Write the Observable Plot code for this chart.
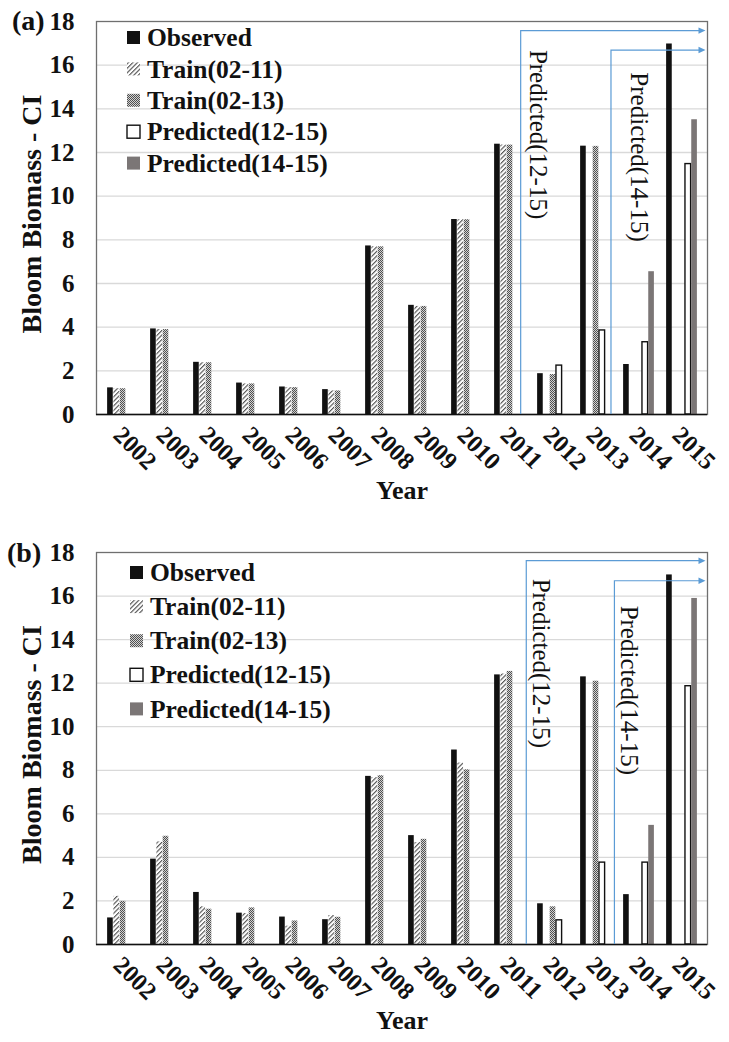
<!DOCTYPE html>
<html><head><meta charset="utf-8">
<script src="https://cdn.jsdelivr.net/npm/d3@7"></script>
<script src="https://cdn.jsdelivr.net/npm/@observablehq/plot@0.6"></script>
<style>
body{margin:0;background:#fff;}
.panel{position:relative;width:729px;}
.panel svg{display:block;}
.panel svg text{font-family:"Liberation Serif","Times New Roman",serif;}
.tag{position:absolute;font:bold 28px/1 "Liberation Serif","Times New Roman",serif;color:#111;}
</style></head><body><div id="wrap"></div>
<script>
// ---- data ----
const years = ["2002","2003","2004","2005","2006","2007","2008","2009","2010","2011","2012","2013","2014","2015"];
const seriesNames = ["Observed","Train(02-11)","Train(02-13)","Predicted(12-15)","Predicted(14-15)"];
const observed = [1.22,3.92,2.39,1.44,1.26,1.14,7.72,5.0,8.93,12.38,1.87,12.29,2.29,16.97];
// panel (a)
const trainA11 = [1.18,3.89,2.37,1.40,1.23,1.08,7.68,4.95,8.92,12.34,null,null,null,null];
const trainA13 = [1.18,3.89,2.37,1.40,1.23,1.08,7.68,4.95,8.92,12.34,1.83,12.28,null,null];
const predA1215 = [null,null,null,null,null,null,null,null,null,null,2.24,3.85,3.31,11.47];
const predA1415 = [null,null,null,null,null,null,null,null,null,null,null,null,6.54,13.5];
// panel (b)
const trainB11 = [2.21,4.71,1.73,1.42,0.84,1.33,7.66,4.68,8.33,12.42,null,null,null,null];
const trainB13 = [1.98,4.97,1.62,1.68,1.08,1.25,7.75,4.83,8.02,12.54,1.73,12.09,null,null];
const predB1215 = [null,null,null,null,null,null,null,null,null,null,1.11,3.76,3.76,11.86];
const predB1415 = [null,null,null,null,null,null,null,null,null,null,null,null,5.47,15.89];
const yTicks = [0,2,4,6,8,10,12,14,16,18];
// annotations (arrow start year, shift within band, arrow top value)
const noteLabels = ["Predicted(12-15)","Predicted(14-15)"];
const noteYears = ["2012","2014"];
const arrowYears = ["2011","2013"];
const arrowShiftA = [0.26,0.36], arrowTopA = [17.56,16.67], noteTopA = [16.7,15.67];
const arrowShiftB = [0.39,0.44], arrowTopB = [17.6,16.68], noteTopB = [16.8,15.56];

const panels = [
  {id:"a", tag:"(a)", tagX:12, tagY:7, height:530, marginTop:21, marginBottom:116,
   series:[observed,trainA11,trainA13,predA1215,predA1415],
   arrowShift:arrowShiftA, arrowTop:arrowTopA, noteTop:noteTopA, noteDx:[-15,0],
   legendX:127, legendY:37.5, legendStep:31.4},
  {id:"b", tag:"(b)", tagX:7, tagY:9, height:512, marginTop:22, marginBottom:98,
   series:[observed,trainB11,trainB13,predB1215,predB1415],
   arrowShift:arrowShiftB, arrowTop:arrowTopB, noteTop:noteTopB, noteDx:[-12.5,-10.5],
   legendX:130, legendY:42.5, legendStep:34.1}
];

const W = 729, ML = 96, MR = 22;
const wrap = document.getElementById("wrap");

function drawPanel(p){
  const fills = ["#111", `url(#hatch-${p.id})`, `url(#check-${p.id})`, "#fff", "#7b7676"];
  const bw = (W-ML-MR)/years.length;
  const slot = bw*0.72/5;
  const inset = (bw-slot)/2;
  const marks = [
    Plot.ruleY(yTicks.filter(v=>v>0 && v<18), {stroke:"#d9d9d9", strokeWidth:1.3}),
    Plot.frame({stroke:"#6f6f6f", strokeWidth:1.3})
  ];
  p.series.forEach((vals,k)=>{
    const rows = years.map((y,i)=>({year:y, value:vals[i]})).filter(d=>d.value!=null);
    marks.push(Plot.barY(rows, {x:"year", y:"value", fill:fills[k],
      stroke: k===3 ? "#111" : "none", strokeWidth:1.4,
      insetLeft:inset, insetRight:inset, dx:(k-2)*slot}));
  });
  marks.push(Plot.ruleY([0], {stroke:"#111", strokeWidth:1.6}));
  marks.push(Plot.text(years, {x:d=>d, text:d=>d, frameAnchor:"bottom", rotate:45, textAnchor:"start", dx:-11, dy:22, fontSize:24.5, fontWeight:"bold"}));
  marks.push(Plot.text(["Year"], {text:d=>d, frameAnchor:"bottom", textAnchor:"middle", dy:84, fontSize:26, fontWeight:"bold"}));
  marks.push(Plot.text(["Bloom Biomass - CI"], {text:d=>d, frameAnchor:"left", textAnchor:"middle", rotate:-90, dx:-64, dy:-4, fontSize:28, fontWeight:"bold"}));
  noteLabels.forEach((lab,i)=>{
    marks.push(Plot.text([{year:noteYears[i], top:p.noteTop[i], label:lab}], {x:"year", y:"top", text:"label", rotate:90, textAnchor:"start", dx:p.noteDx[i], fontSize:25, fontWeight:"normal", fill:"#111"}));
  });
  const chart = Plot.plot({
    width:W, height:p.height, marginLeft:ML, marginRight:MR, marginTop:p.marginTop, marginBottom:p.marginBottom,
    style:{fontFamily:"'Liberation Serif','Times New Roman',serif", fontSize:"25px", fontWeight:"bold", background:"#fff", color:"#111"},
    x:{domain:years, axis:null, padding:0},
    y:{domain:[0,18], ticks:9, tickSize:0, tickPadding:22, line:true, label:null, tickFormat:d=>String(d)},
    marks
  });
  const div = document.createElement("div");
  div.className = "panel";
  div.appendChild(chart);
  const tag = document.createElement("div");
  tag.className = "tag"; tag.textContent = p.tag;
  tag.style.left = p.tagX+"px"; tag.style.top = p.tagY+"px";
  div.appendChild(tag);
  wrap.appendChild(div);

  const svg = d3.select(chart.tagName.toLowerCase()==="svg" ? chart : chart.querySelector("svg"));
  svg.selectAll("g").attr("font-family", null);
  // patterns
  const defs = svg.insert("defs", ":first-child");
  const h = defs.append("pattern").attr("id", `hatch-${p.id}`).attr("patternUnits","userSpaceOnUse")
    .attr("width",3.2).attr("height",3.2).attr("patternTransform","rotate(45)");
  h.append("rect").attr("width",3.2).attr("height",3.2).attr("fill","#fff");
  h.append("line").attr("x1",0.6).attr("x2",0.6).attr("y1",0).attr("y2",3.2).attr("stroke","#3a3a3a").attr("stroke-width",1);
  const c = defs.append("pattern").attr("id", `check-${p.id}`).attr("patternUnits","userSpaceOnUse")
    .attr("width",2).attr("height",2);
  c.append("rect").attr("width",2).attr("height",2).attr("fill","#d2d2d2");
  c.append("rect").attr("width",1).attr("height",1).attr("fill","#505050");
  c.append("rect").attr("x",1).attr("y",1).attr("width",1).attr("height",1).attr("fill","#505050");

  // scales from Plot
  const sxObj = chart.scale("x"), syObj = chart.scale("y");
  const sx = sxObj.apply ? (v=>sxObj.apply(v)) : d3.scaleBand(sxObj.domain, sxObj.range);
  const sy = syObj.apply ? (v=>syObj.apply(v)) : d3.scaleLinear(syObj.domain, syObj.range);
  const band = sxObj.bandwidth ?? bw;
  const blue = "#5b9bd5";
  const g = svg.append("g");
  arrowYears.forEach((yr,i)=>{
    const x0 = sx(yr) + band*(0.5+p.arrowShift[i]);
    const yt = sy(p.arrowTop[i]);
    const xr = W - MR - 1.5;
    g.append("path").attr("d", `M${x0},${sy(0)}V${yt}H${xr-6}`).attr("fill","none").attr("stroke",blue).attr("stroke-width",1.2);
    g.append("path").attr("d", `M${xr},${yt}L${xr-7},${yt-3.2}L${xr-7},${yt+3.2}Z`).attr("fill",blue);
  });
  // legend
  const lg = svg.append("g").attr("text-anchor","start");
  seriesNames.forEach((name,k)=>{
    const cy = p.legendY + k*p.legendStep;
    lg.append("rect").attr("x",p.legendX).attr("y",cy-6.5).attr("width",13).attr("height",13)
      .attr("fill",fills[k]).attr("stroke", k===3 ? "#111" : "none").attr("stroke-width",1.4);
    lg.append("text").attr("x",p.legendX+20).attr("y",cy).attr("dy","0.34em").attr("text-anchor","start")
      .attr("font-size",25.5).attr("font-weight","bold").attr("fill","#111").text(name);
  });
}
panels.forEach(drawPanel);
</script></body></html>
